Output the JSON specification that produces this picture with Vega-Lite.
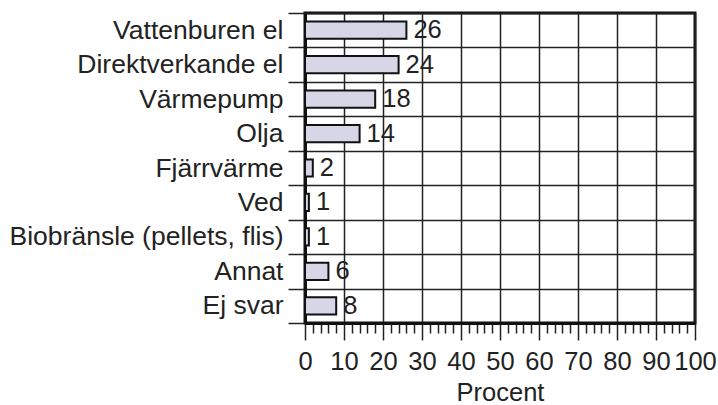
{
  "$schema": "https://vega.github.io/schema/vega-lite/v6.json",
  "autosize": {"type": "none"},
  "width": 390,
  "height": 310,
  "padding": {"left": 305, "top": 13, "right": 23, "bottom": 82},
  "background": "white",
  "config": {
    "font": "Liberation Sans",
    "view": {"stroke": "#111", "strokeWidth": 3}
  },
  "data": {
    "values": [
      {"kategori": "Vattenburen el", "procent": 26},
      {"kategori": "Direktverkande el", "procent": 24},
      {"kategori": "Värmepump", "procent": 18},
      {"kategori": "Olja", "procent": 14},
      {"kategori": "Fjärrvärme", "procent": 2},
      {"kategori": "Ved", "procent": 1},
      {"kategori": "Biobränsle (pellets, flis)", "procent": 1},
      {"kategori": "Annat", "procent": 6},
      {"kategori": "Ej svar", "procent": 8}
    ]
  },
  "encoding": {
    "y": {
      "field": "kategori",
      "type": "nominal",
      "sort": null,
      "scale": {"paddingInner": 0, "paddingOuter": 0},
      "axis": {
        "title": null,
        "tickBand": "extent",
        "tickSize": 17,
        "tickColor": "#222",
        "tickWidth": 1.5,
        "labelPadding": 5,
        "labelFontSize": 26.5,
        "labelColor": "#222",
        "labelLimit": 400,
        "domainColor": "#111",
        "domainWidth": 3,
        "grid": true,
        "gridColor": "#222",
        "gridWidth": 1.5,
        "gridOpacity": 1
      }
    },
    "x": {
      "field": "procent",
      "type": "quantitative",
      "scale": {"domain": [0, 100], "nice": false},
      "axis": {
        "title": "Procent",
        "titleFontSize": 25.5,
        "titleFontWeight": "normal",
        "titleColor": "#222",
        "titlePadding": 6,
        "values": [0,2,4,6,8,10,12,14,16,18,20,22,24,26,28,30,32,34,36,38,40,42,44,46,48,50,52,54,56,58,60,62,64,66,68,70,72,74,76,78,80,82,84,86,88,90,92,94,96,98,100],
        "tickSize": {"condition": {"test": "datum.value % 10 === 0", "value": 17}, "value": 10},
        "tickColor": "#222",
        "tickWidth": 1.5,
        "labelExpr": "datum.value % 10 === 0 ? datum.label : ''",
        "labelFontSize": 25.5,
        "labelColor": "#222",
        "labelPadding": 9,
        "labelFlush": false,
        "labelOverlap": false,
        "domainColor": "#111",
        "domainWidth": 3,
        "grid": true,
        "gridColor": "#222",
        "gridWidth": 1.5,
        "gridOpacity": {"condition": {"test": "datum.value % 10 === 0", "value": 1}, "value": 0}
      }
    }
  },
  "layer": [
    {
      "mark": {"type": "bar", "height": {"band": 0.5}, "fill": "#d6d6e6", "stroke": "#111", "strokeWidth": 2}
    },
    {
      "mark": {"type": "text", "align": "left", "baseline": "middle", "dx": 7, "fontSize": 25.5, "fill": "#222"},
      "encoding": {"text": {"field": "procent", "type": "quantitative"}}
    }
  ]
}
